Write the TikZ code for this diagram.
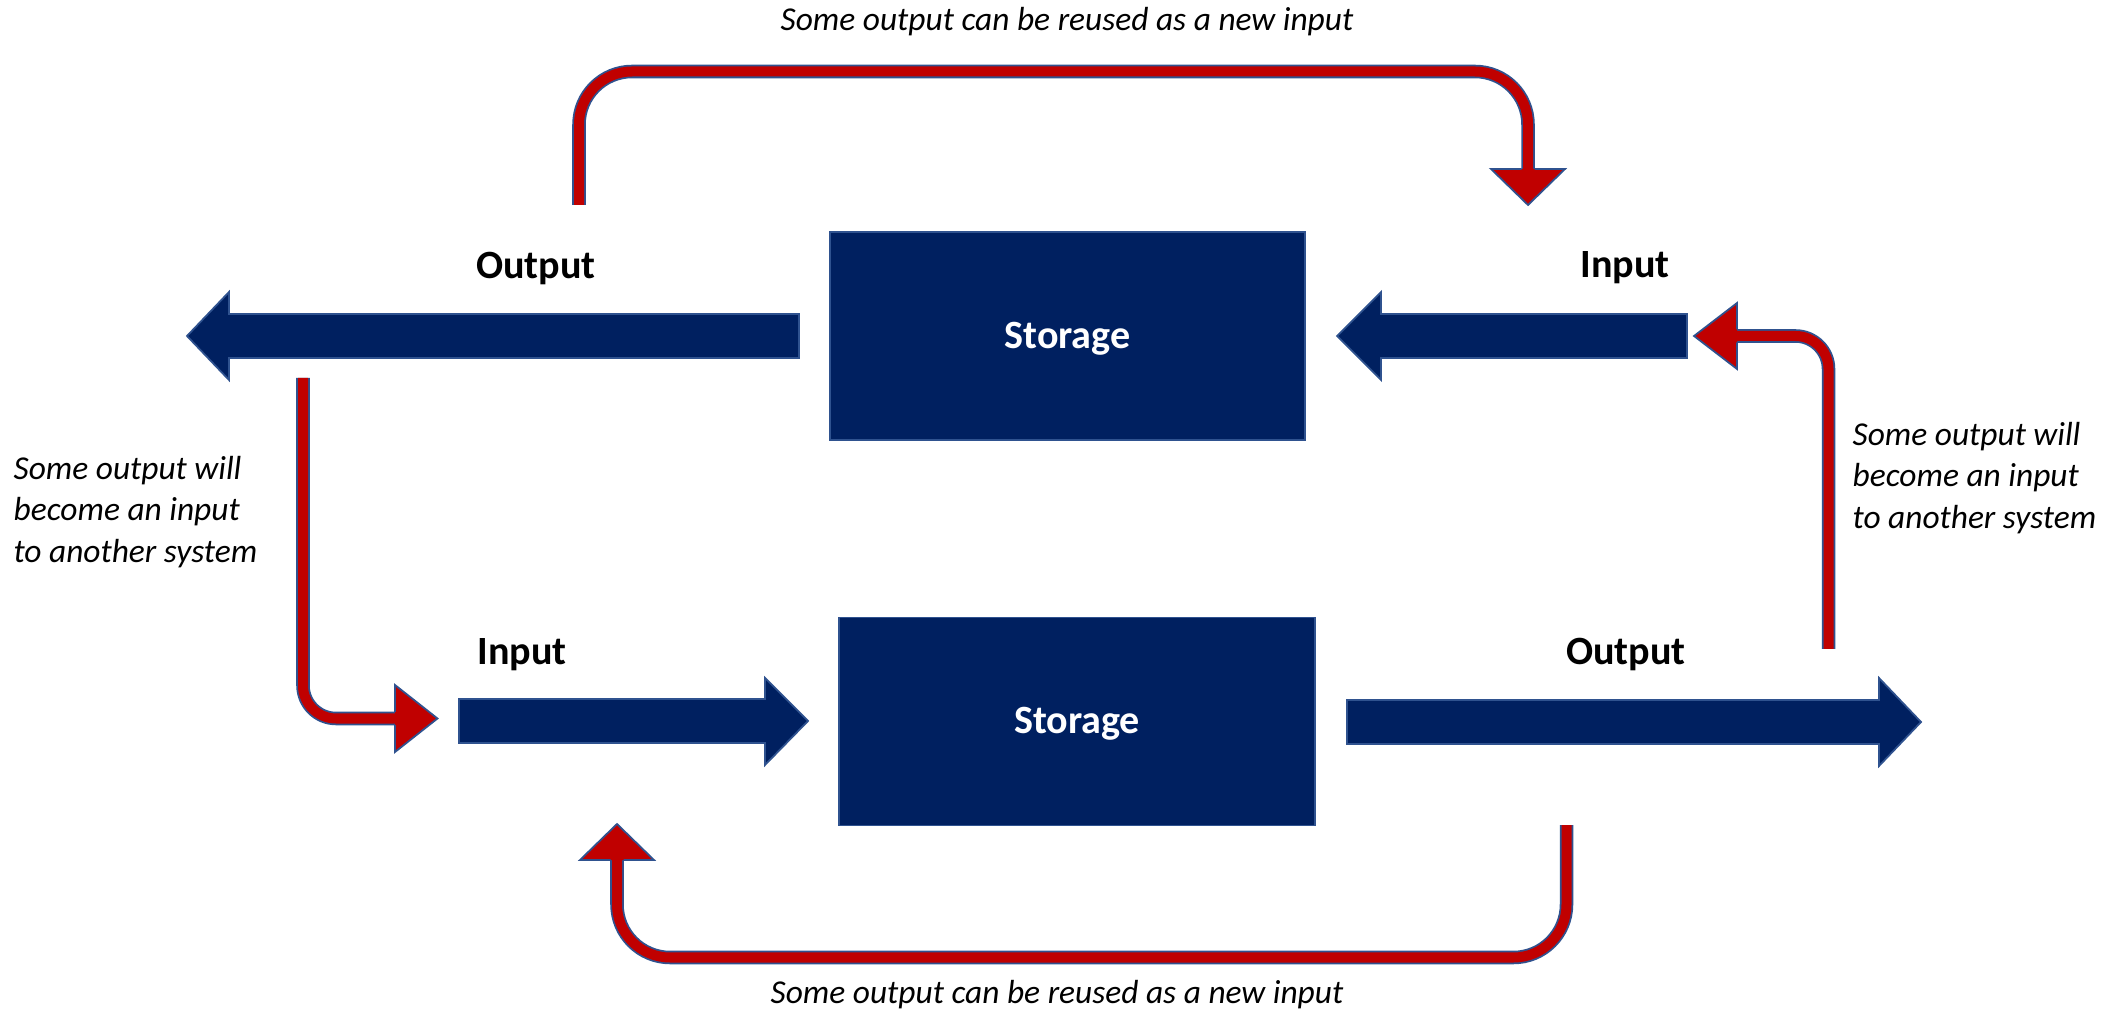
\documentclass[tikz,border=0pt]{standalone}
\usepackage{fontspec}
\setmainfont{Carlito}
\usepackage{xcolor}
\usetikzlibrary{calc,positioning}
\definecolor{navy}{HTML}{002060}
\definecolor{edgeblue}{HTML}{2F528F}
\definecolor{darkred}{HTML}{C00000}

\begin{document}
\begin{tikzpicture}[x=0.01cm,y=-0.01cm]
		\tikzstyle{every node}=[inner sep=0pt]
		\tikzstyle{storebox}=[draw=edgeblue, line width=0.5pt, fill=navy, minimum width=4.75cm, minimum height=2.08cm, text=white, text height=0.24cm, text depth=0cm, font=\fontsize{11.4pt}{13pt}\selectfont\bfseries]
		\tikzstyle{tag}=[font=\fontsize{11.4pt}{13pt}\selectfont\bfseries, anchor=base]
		\tikzstyle{remark}=[font=\fontsize{9.5pt}{11.9pt}\selectfont\itshape, align=left]
		\tikzstyle{bigarrow}=[draw=edgeblue, line width=0.5pt, fill=navy, line join=miter]
		\tikzstyle{loopline}=[draw=edgeblue, line width=0.5pt, double=darkred, double distance=0.1cm]
		\tikzstyle{loophead}=[fill=darkred]
		\tikzstyle{headedge}=[draw=edgeblue, line width=0.5pt, line join=miter]
		\fill [white] (0,0) rectangle (2127,1013);
		\useasboundingbox (0,0) rectangle (2127,1013);
		% storage boxes
		\node [storebox] (topstore) at (1067.5,336) {Storage};
		\node [storebox] (botstore) at (1077,721.5) {Storage};
		% big blue arrows
		\draw [bigarrow] (799,314) -- (229,314) -- (229,292) -- (187,336) -- (229,380) -- (229,358) -- (799,358) -- cycle;
		\draw [bigarrow] (1687,314) -- (1381,314) -- (1381,292) -- (1337,336) -- (1381,380) -- (1381,358) -- (1687,358) -- cycle;
		\draw [bigarrow] (459,699) -- (765,699) -- (765,678) -- (808,721) -- (765,765) -- (765,743) -- (459,743) -- cycle;
		\draw [bigarrow] (1347,700) -- (1879,700) -- (1879,678) -- (1921,722) -- (1879,766) -- (1879,744) -- (1347,744) -- cycle;
		\node [tag] (outtop) at (536,279) {Output};
		\node [tag] (intop) at (1625,278) {Input};
		\node [tag] (inbot) at (522,665) {Input};
		\node [tag] (outbot) at (1626,665) {Output};
		% red loops
		\coordinate (topfrom) at (579,205);
		\coordinate (topto) at (1528,171);
		\coordinate (botfrom) at (1566.5,825);
		\coordinate (botto) at (617,858);
		\coordinate (leftfrom) at (303,378);
		\coordinate (leftto) at (397,718.5);
		\coordinate (rightfrom) at (1828.5,649);
		\coordinate (rightto) at (1735,336);
		\draw [loopline, rounded corners=0.53cm] (topfrom) -- ++(0,-133.5) -| (topto);
		\draw [loopline, rounded corners=0.53cm] (botfrom) -- ++(0,132.5) -| (botto);
		\draw [loopline, rounded corners=0.33cm] (leftfrom) |- (leftto);
		\draw [loopline, rounded corners=0.33cm] (rightfrom) |- (rightto);
		\fill [loophead] (1491,169) -- (1528,205) -- (1565,169) -- cycle;
		\draw [headedge] (1521.5,169) -- (1491,169) -- (1528,205) -- (1565,169) -- (1534.5,169);
		\fill [loophead] (580,860) -- (617,824) -- (654,860) -- cycle;
		\draw [headedge] (610.5,860) -- (580,860) -- (617,824) -- (654,860) -- (623.5,860);
		\fill [loophead] (395,685) -- (437.5,718.5) -- (395,752) -- cycle;
		\draw [headedge] (395,712) -- (395,685) -- (437.5,718.5) -- (395,752) -- (395,725);
		\fill [loophead] (1737,303) -- (1694,336) -- (1737,369) -- cycle;
		\draw [headedge] (1737,329.5) -- (1737,303) -- (1694,336) -- (1737,369) -- (1737,342.5);
		% notes
		\node [remark, anchor=base] (reusetop) at (1067,31) {Some output can be reused as a new input};
		\node [remark, anchor=base] (reusebot) at (1057,1003) {Some output can be reused as a new input};
		\node [remark, anchor=west] (otherleft) at (13,512) {Some output will\\become an input\\to another system};
		\node [remark, anchor=west] (otherright) at (1852,478) {Some output will\\become an input\\to another system};
\end{tikzpicture}
\end{document}
